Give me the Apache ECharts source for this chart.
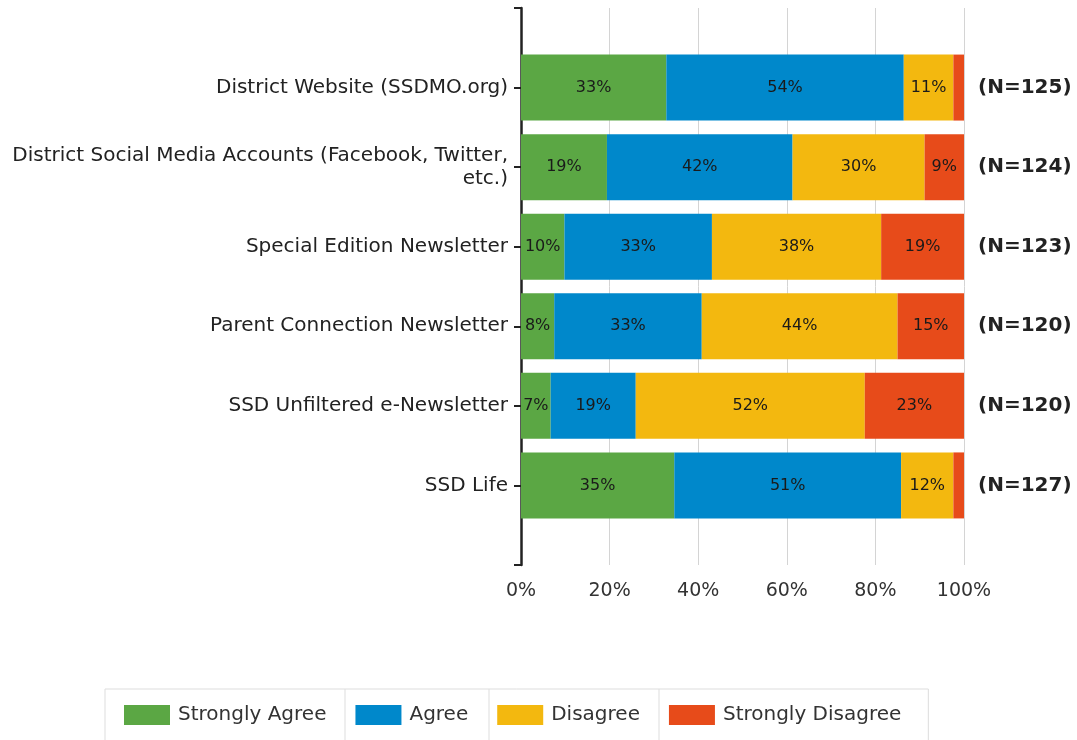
<!DOCTYPE html>
<html>
<head>
<meta charset="utf-8">
<script src="https://cdn.jsdelivr.net/npm/echarts@6/dist/echarts.min.js"></script>
<style>
  html, body { margin: 0; padding: 0; background: #fff; }
  #main { width: 1077px; height: 740px; }
</style>
</head>
<body>
<div id="main"></div>
<script>
var categories = [
    'District Website (SSDMO.org)',
    'District Social Media Accounts (Facebook, Twitter,\netc.)',
    'Special Edition Newsletter',
    'Parent Connection Newsletter',
    'SSD Unfiltered e-Newsletter',
    'SSD Life'
];
var nValues = [125, 124, 123, 120, 120, 127];

// percent of respondents
var stronglyAgree    = [32.8, 19.4, 9.8, 7.5, 6.7, 34.6];
var agree            = [53.6, 41.9, 33.3, 33.3, 19.2, 51.2];
var disagree         = [11.2, 29.8, 38.2, 44.2, 51.7, 11.8];
var stronglyDisagree = [2.4, 8.9, 18.7, 15.0, 22.5, 2.4];

var xTicks = [0, 20, 40, 60, 80, 100];

var myChart = echarts.init(document.getElementById('main'));

var font = 'DejaVu Sans';

// blank category top and bottom so the axis line runs past the bars
function pad(arr) {
    return [''].concat(arr, ['']);
}
function padData(arr) {
    return ['-'].concat(arr, ['-']);
}

function makeSeries(name, data, color) {
    return {
        name: name,
        type: 'bar',
        stack: 'total',
        yAxisIndex: 0,
        barWidth: 66,
        data: padData(data),
        itemStyle: { color: color },
        label: {
            show: true,
            position: 'inside',
            color: '#1a1a1a',
            fontFamily: font,
            fontSize: 16,
            formatter: function (p) {
                if (p.value === '-' || p.value < 5) return '';
                return Math.round(p.value) + '%';
            }
        }
    };
}

// thin separators between legend items
function divider(x) {
    return {
        type: 'line',
        shape: { x1: x, y1: 689, x2: x, y2: 740 },
        style: { stroke: '#dddddd', lineWidth: 1 }
    };
}

var option = {
    animation: false,
    backgroundColor: '#fff',
    grid: {
        left: 521,
        right: 113,
        top: 8,
        bottom: 175
    },
    xAxis: {
        type: 'value',
        min: xTicks[0],
        max: xTicks[xTicks.length - 1],
        interval: 20,
        axisLine: { show: false },
        axisTick: { show: false },
        splitLine: { lineStyle: { color: '#d4d4d4', width: 1 } },
        axisLabel: {
            margin: 17,
            color: '#333',
            fontFamily: font,
            fontSize: 19,
            formatter: '{value}%'
        }
    },
    yAxis: [
        {
            type: 'category',
            inverse: true,
            boundaryGap: false,
            data: pad(categories),
            axisLine: { lineStyle: { color: '#222', width: 2.5 } },
            axisTick: { length: 7, lineStyle: { color: '#222', width: 2 } },
            axisLabel: {
                margin: 13,
                color: '#222',
                fontFamily: font,
                fontSize: 20,
                lineHeight: 23
            },
            splitLine: { show: false }
        },
        {
            type: 'category',
            inverse: true,
            boundaryGap: false,
            position: 'right',
            data: pad(nValues.map(function (n) { return '(N=' + n + ')'; })),
            axisLine: { show: false },
            axisTick: { show: false },
            axisLabel: {
                margin: 14,
                color: '#222',
                fontFamily: font,
                fontWeight: 'bold',
                fontSize: 20
            },
            splitLine: { show: false }
        }
    ],
    legend: {
        left: 105,
        top: 689,
        itemWidth: 46,
        itemHeight: 20,
        itemGap: 29,
        icon: 'rect',
        borderColor: '#dddddd',
        borderWidth: 1,
        padding: [16, 27, 20, 19],
        textStyle: { color: '#333', fontFamily: font, fontSize: 20, padding: [0, 0, 0, 3] },
        data: ['Strongly Agree', 'Agree', 'Disagree', 'Strongly Disagree']
    },
    graphic: [divider(345), divider(489), divider(659)],
    series: [
        makeSeries('Strongly Agree', stronglyAgree, '#5ba744'),
        makeSeries('Agree', agree, '#0088cb'),
        makeSeries('Disagree', disagree, '#f3b80f'),
        makeSeries('Strongly Disagree', stronglyDisagree, '#e74b1a')
    ]
};

myChart.setOption(option);
</script>
</body>
</html>
